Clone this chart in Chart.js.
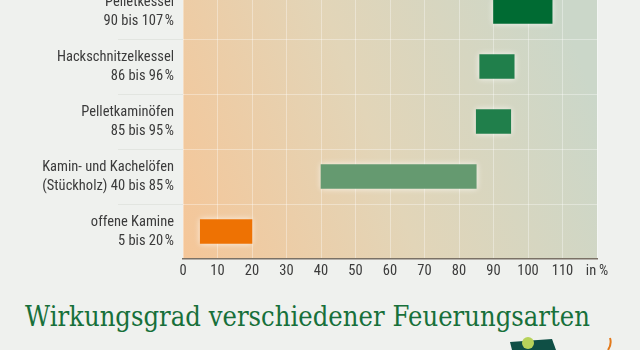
<!DOCTYPE html>
<html lang="de">
<head>
<meta charset="utf-8">
<script src="https://cdn.jsdelivr.net/npm/chart.js@4"></script>
<style>
  html, body { margin: 0; padding: 0; }
  body { width: 640px; height: 350px; overflow: hidden; background: #eff1ee; position: relative; }
  #wrap { position: absolute; left: 0; top: -40px; width: 640px; height: 329px; }
  #title { position: absolute; left: 0; top: 290px; }
  #logo { position: absolute; left: 500px; top: 334px; }
</style>
</head>
<body>
<div id="wrap"><canvas id="effChart"></canvas></div>
<svg id="title" width="640" height="50">
  <text x="25" y="36" textLength="565" lengthAdjust="spacingAndGlyphs"
        font-family="'DejaVu Serif', 'Liberation Serif', serif" font-size="27" fill="#17703a">Wirkungsgrad verschiedener Feuerungsarten</text>
</svg>
<svg id="logo" width="140" height="16">
  <polygon points="10,8 52,5 56,16 12,16" fill="#0f4f45"/>
  <circle cx="28" cy="9" r="6" fill="#b7d35a"/>
  <path d="M108,16 Q112,10 110,4" stroke="#e27a1c" stroke-width="2" fill="none"/>
</svg>
<script>
// Wirkungsgrad ranges per firing type (percent)
const heatingTypes = ['Pelletkessel', 'Hackschnitzelkessel', 'Pelletkaminöfen', 'Kamin- und Kachelöfen', 'offene Kamine'];
const rangeLabels = ['90 bis 107\u202F%', '86 bis 96\u202F%', '85 bis 95\u202F%', '(Stückholz) 40 bis 85\u202F%', '5 bis 20\u202F%'];
const minEfficiency = [90, 86, 85, 40, 5];
const maxEfficiency = [107, 96, 95, 85, 20];
const barColors = ['#006b33', '#207f4b', '#207f4b', '#659a70', '#ee7203'];
const xTicks = [0, 10, 20, 30, 40, 50, 60, 70, 80, 90, 100, 110, 120];

const labelFont = "'Roboto Condensed', 'Liberation Sans Narrow', 'DejaVu Sans Condensed', sans-serif";

// y labels: name on the first line, range on the second
const yLabels = heatingTypes.map((name, i) => [name, rangeLabels[i]]);

// gradient behind the bars, orange lower left to grey-green upper right
const plotBackground = {
  id: 'plotBackground',
  beforeDraw(chart) {
    const { ctx, chartArea: a } = chart;
    const g = ctx.createLinearGradient(a.left, a.bottom, a.right, a.top + 120);
    g.addColorStop(0, '#f5c698');
    g.addColorStop(0.5, '#e2d5b8');
    g.addColorStop(1, '#cbd7c9');
    ctx.save();
    ctx.fillStyle = g;
    ctx.fillRect(a.left, a.top, a.right - a.left, a.bottom - a.top);
    ctx.restore();
  }
};

// separator lines between the rows, reaching into the label column
const rowSeparators = {
  id: 'rowSeparators',
  afterDraw(chart) {
    const { ctx, chartArea: a } = chart;
    const y = chart.scales.y;
    ctx.save();
    ctx.lineWidth = 1;
    for (let i = 0; i < heatingTypes.length - 1; i++) {
      const py = Math.round((y.getPixelForValue(i) + y.getPixelForValue(i + 1)) / 2) + 0.5;
      ctx.strokeStyle = '#e2e5e0';
      ctx.beginPath();
      ctx.moveTo(118, py);
      ctx.lineTo(a.left, py);
      ctx.stroke();
      ctx.strokeStyle = 'rgba(255,255,255,0.35)';
      ctx.beginPath();
      ctx.moveTo(a.left, py);
      ctx.lineTo(a.right, py);
      ctx.stroke();
    }
    ctx.restore();
  }
};

// soft light halo around the bars
const barGlow = {
  id: 'barGlow',
  beforeDatasetsDraw(chart) {
    chart.ctx.save();
    chart.ctx.shadowColor = 'rgba(255,255,255,0.75)';
    chart.ctx.shadowBlur = 6;
  },
  afterDatasetsDraw(chart) {
    chart.ctx.restore();
  }
};

new Chart(document.getElementById('effChart'), {
  type: 'bar',
  data: {
    labels: yLabels,
    datasets: [{
      data: minEfficiency.map((v, i) => [v, maxEfficiency[i]]),
      backgroundColor: barColors,
      borderWidth: 0,
      barThickness: 24
    }]
  },
  options: {
    indexAxis: 'y',
    responsive: true,
    maintainAspectRatio: false,
    animation: false,
    layout: { padding: { top: 24, right: 43, left: 0, bottom: 0 } },
    plugins: {
      legend: { display: false },
      tooltip: { enabled: false }
    },
    scales: {
      x: {
        min: 0,
        max: 120,
        afterBuildTicks(scale) { scale.ticks = xTicks.map(v => ({ value: v })); },
        afterFit(scale) { scale.height = 30; },
        ticks: {
          padding: 4,
          color: '#3b3b3b',
          font: { family: labelFont, size: 14.5 },
          callback: v => (v === 120 ? 'in\u2009%' : v)
        },
        grid: { color: 'rgba(255,255,255,0.35)', drawTicks: false },
        border: { color: '#7a7166', width: 1.5 }
      },
      y: {
        afterFit(scale) { scale.width = 183; },
        ticks: {
          padding: 1,
          color: '#3b3b3b',
          font: { family: labelFont, size: 14.5, lineHeight: 1.3 }
        },
        grid: { display: false },
        border: { display: false }
      }
    }
  },
  plugins: [plotBackground, barGlow, rowSeparators]
});
</script>
</body>
</html>
